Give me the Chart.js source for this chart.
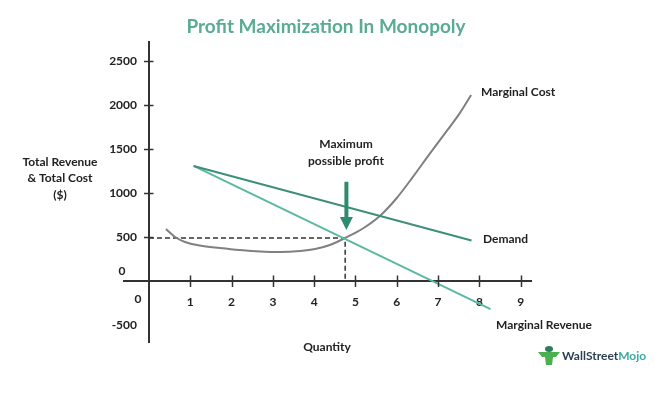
<!DOCTYPE html>
<html><head><meta charset="utf-8">
<script src="https://cdn.jsdelivr.net/npm/chart.js@4/dist/chart.umd.min.js"></script>
<style>html,body{margin:0;padding:0;background:#fff;}canvas{display:block;}</style>
</head><body>
<canvas id="c" width="662" height="393"></canvas>
<script>
// ---- data ----
const xTicks = [0, 1, 2, 3, 4, 5, 6, 7, 8, 9];
const yTicks = [-500, 0, 500, 1000, 1500, 2000, 2500];

const demandQ = [1.08, 7.81];
const demandV = [1310, 461];

const mrQ = [1.08, 8.27];
const mrV = [1310, -320];

const mcQ = [0.41, 0.63, 0.87, 1.23, 1.72, 2.20, 2.69, 3.17, 3.66, 4.02, 4.38, 4.75, 5.16, 5.59, 6.00, 6.39, 6.80, 7.22, 7.53, 7.80];
const mcV = [592, 501, 444, 404, 376, 353, 336, 330, 342, 364, 410, 490, 592, 740, 945, 1185, 1450, 1715, 1915, 2119];

const profitQ = [0, 4.75, 4.75];
const profitV = [490, 490, 0];

const arrowQ = 4.78;
const arrowV = [1130, 580];

const chartTitle = 'Profit Maximization In Monopoly';
const yTitle = ['Total Revenue', '& Total Cost', '($)'];
const xTitle = 'Quantity';

const FONT = "Lato, 'Open Sans', sans-serif";
const pts = (xs, ys) => xs.map((x, i) => ({x, y: ys[i]}));

const decor = {
  id: 'decor',
  afterDraw(chart) {
    const ctx = chart.ctx, sx = chart.scales.x, sy = chart.scales.y;
    const ox = sx.getPixelForValue(0), oy = sy.getPixelForValue(0);
    ctx.save();
    // x axis continues a little to the left of the y axis
    ctx.strokeStyle = '#333'; ctx.lineWidth = 2;
    ctx.beginPath(); ctx.moveTo(ox - 26, Math.round(oy)); ctx.lineTo(ox, Math.round(oy)); ctx.stroke();
    // crossing tick marks
    ctx.lineWidth = 1.5;
    xTicks.filter(v => v > 0).forEach(v => {
      const p = Math.round(sx.getPixelForValue(v)) + 0.5;
      ctx.beginPath(); ctx.moveTo(p, oy - 5.5); ctx.lineTo(p, oy + 6); ctx.stroke();
    });
    yTicks.filter(v => v > 0).forEach(v => {
      const p = Math.round(sy.getPixelForValue(v)) + 0.5;
      ctx.beginPath(); ctx.moveTo(ox - 5, p); ctx.lineTo(ox + 4.5, p); ctx.stroke();
    });
    // zero labels
    ctx.fillStyle = '#222'; ctx.font = 'bold 12px ' + FONT;
    ctx.textAlign = 'center'; ctx.textBaseline = 'middle';
    ctx.fillText('0', ox - 27, oy - 10);
    ctx.fillText('0', ox - 11, oy + 18);
    // title
    ctx.font = 'bold 19px ' + FONT; ctx.fillStyle = '#5aab93';
    ctx.fillText(chartTitle, 326, 27);
    // axis titles
    ctx.font = 'bold 12px ' + FONT; ctx.fillStyle = '#222';
    yTitle.forEach((t, i) => ctx.fillText(t, 60, 162 + i * 16.5));
    ctx.fillText(xTitle, 327, 347);
    // curve labels
    ctx.textAlign = 'left';
    ctx.fillText('Marginal Cost', 481, 92);
    ctx.fillText('Demand', 483, 239);
    ctx.fillText('Marginal Revenue', 496, 325);
    ctx.textAlign = 'center';
    ctx.fillText('Maximum', 346, 144);
    ctx.fillText('possible profit', 346, 161);
    // arrow
    const ax = sx.getPixelForValue(arrowQ), ay1 = sy.getPixelForValue(arrowV[0]), ay2 = sy.getPixelForValue(arrowV[1]);
    ctx.fillStyle = '#2f8a70';
    ctx.fillRect(ax - 2, ay1, 4, (ay2 - ay1) - 12);
    ctx.beginPath(); ctx.moveTo(ax - 6.5, ay2 - 13); ctx.lineTo(ax + 6.5, ay2 - 13); ctx.lineTo(ax, ay2); ctx.closePath(); ctx.fill();
    // logo
    const lx = 549, ly = 356;
    ctx.fillStyle = '#2e7d5b';
    ctx.beginPath(); ctx.ellipse(lx, ly - 7, 4, 3, 0, 0, Math.PI * 2); ctx.fill();
    ctx.fillStyle = '#4caf50';
    ctx.beginPath(); ctx.moveTo(lx - 11, ly - 4); ctx.lineTo(lx + 11, ly - 4); ctx.lineTo(lx + 7, ly + 1); ctx.lineTo(lx + 4, ly + 1); ctx.lineTo(lx + 3, ly + 9); ctx.lineTo(lx - 3, ly + 9); ctx.lineTo(lx - 4, ly + 1); ctx.lineTo(lx - 7, ly + 1); ctx.closePath(); ctx.fill();
    ctx.font = 'bold 12px ' + FONT; ctx.textAlign = 'left';
    ctx.fillStyle = '#2b3f52'; ctx.fillText('WallStreet', 562, ly);
    const w = ctx.measureText('WallStreet').width;
    ctx.fillStyle = '#3aa9a6'; ctx.fillText('Mojo', 562 + w, ly);
    ctx.restore();
  }
};

const tickFont = {family: FONT, size: 12, weight: 'bold'};

new Chart(document.getElementById('c'), {
  type: 'line',
  data: {
    datasets: [
      {label: 'Demand', data: pts(demandQ, demandV), borderColor: '#3d8f7a', borderWidth: 2, pointRadius: 0, tension: 0},
      {label: 'Marginal Revenue', data: pts(mrQ, mrV), borderColor: '#5ab8a3', borderWidth: 2, pointRadius: 0, tension: 0},
      {label: 'Marginal Cost', data: pts(mcQ, mcV), borderColor: '#808080', borderWidth: 2, pointRadius: 0, cubicInterpolationMode: 'monotone'},
      {label: 'Profit', data: pts(profitQ, profitV), borderColor: '#333', borderWidth: 1.5, borderDash: [5, 3], pointRadius: 0, tension: 0}
    ]
  },
  options: {
    responsive: false,
    animation: false,
    devicePixelRatio: 1,
    layout: {padding: {left: 94, right: 131, top: 42, bottom: 51}},
    plugins: {legend: {display: false}, tooltip: {enabled: false}, title: {display: false}},
    scales: {
      x: {
        type: 'linear', min: 0, max: 9.25, position: {y: 0},
        grid: {display: false},
        border: {display: true, color: '#333', width: 2},
        ticks: {font: tickFont, color: '#222', padding: 6, autoSkip: false, maxRotation: 0,
          callback: v => (v === 0 ? '' : String(v))},
        afterBuildTicks: s => { s.ticks = xTicks.map(v => ({value: v})); },
        afterFit: s => { s.height = 0; }
      },
      y: {
        type: 'linear', min: -695, max: 2722, position: 'left',
        grid: {display: false, drawTicks: false},
        border: {display: true, color: '#333', width: 2},
        ticks: {font: tickFont, color: '#222', padding: 12, autoSkip: false,
          callback: v => (v === 0 ? '' : String(v))},
        afterBuildTicks: s => { s.ticks = yTicks.map(v => ({value: v})); },
        afterFit: s => { s.width = 55; }
      }
    }
  },
  plugins: [decor]
});
</script>
</body></html>
